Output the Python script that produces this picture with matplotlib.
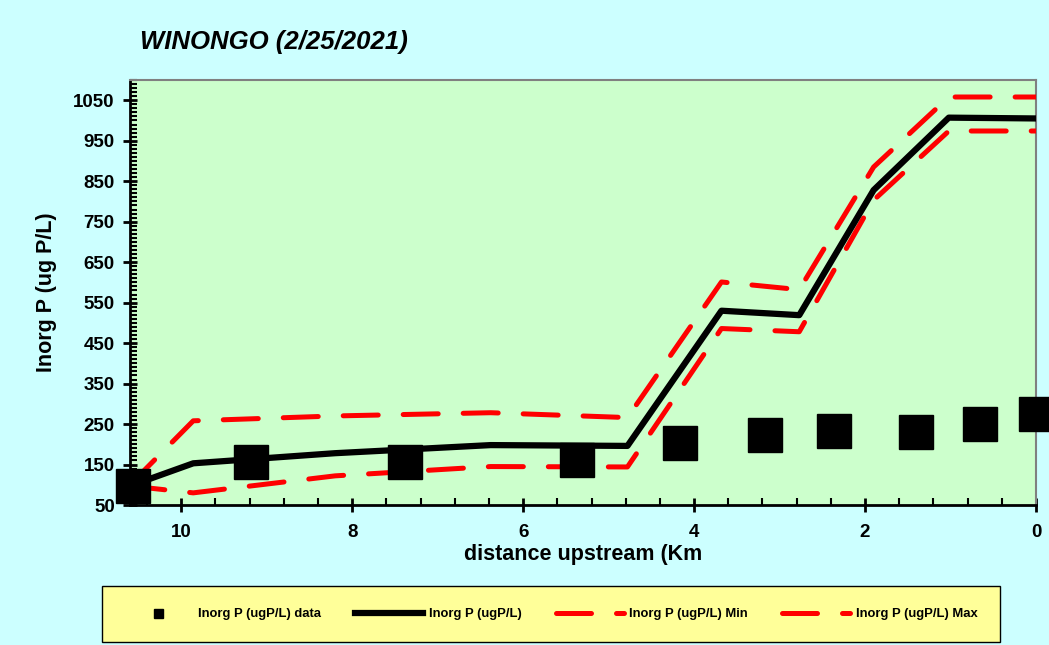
import matplotlib.pyplot as plt
from matplotlib.ticker import MultipleLocator

# distance upstream (km) of model vertices and measured data
model_km = [10.6, 9.86, 8.2, 6.38, 4.78, 3.68, 2.77, 1.90, 1.02, 0.0]
model_val = [97, 153, 178, 198, 196, 530, 519, 828, 1007, 1005]
max_val = [100, 258, 270, 278, 266, 601, 582, 885, 1058, 1058]
min_val = [97, 80, 122, 145, 144, 486, 478, 803, 974, 974]

data_km = [10.57, 9.18, 7.38, 5.37, 4.17, 3.17, 2.36, 1.40, 0.65, 0.0]
data_val = [97, 157, 156, 161, 204, 222, 233, 230, 250, 274]

plt.rcParams['font.family'] = ['Liberation Sans', 'DejaVu Sans']
plt.rcParams['font.weight'] = 'bold'

fig = plt.figure(figsize=(10.49, 6.45), dpi=100, facecolor='#CCFFFF')
ax = fig.add_axes([130 / 1049, 1 - 505 / 645, (1036 - 130) / 1049, (505 - 80) / 645])
ax.set_facecolor('#CCFFCC')

ax.plot(data_km, data_val, 's', color='black', markersize=24, clip_on=False,
        zorder=5, label='Inorg P (ugP/L) data')
ax.plot(model_km, model_val, '-', color='black', lw=4.5, zorder=4,
        label='Inorg P (ugP/L)')
ax.plot(model_km, min_val, color='red', lw=3.6, dashes=(7, 5),
        dash_capstyle='round', zorder=3, label='Inorg P (ugP/L) Min')
ax.plot(model_km, max_val, color='red', lw=3.6, dashes=(7, 5),
        dash_capstyle='round', zorder=3, label='Inorg P (ugP/L) Max')

ax.set_xlim(10.6, 0)
ax.set_ylim(50, 1100)
ax.xaxis.set_major_locator(MultipleLocator(2))
ax.xaxis.set_minor_locator(MultipleLocator(0.4))
ax.set_yticks(range(50, 1051, 100))
ax.yaxis.set_minor_locator(MultipleLocator(10))

ax.tick_params(which='major', direction='inout', length=10, width=2, labelsize=13.5)
ax.tick_params(axis='x', which='major', pad=9)
ax.tick_params(axis='y', which='major', pad=6)
ax.tick_params(which='minor', direction='in', length=5, width=1.5)
for lbl in ax.get_xticklabels() + ax.get_yticklabels():
    lbl.set_fontweight('bold')

for s in ['left', 'bottom']:
    ax.spines[s].set_linewidth(2)
    ax.spines[s].set_color('black')
for s in ['top', 'right']:
    ax.spines[s].set_linewidth(1.5)
    ax.spines[s].set_color('#808080')

ax.set_xlabel('distance upstream (Km', fontsize=15.5, fontweight='bold', labelpad=2)
ax.set_ylabel('Inorg P (ug P/L)', fontsize=15.5, fontweight='bold', labelpad=12)
fig.text(140 / 1049, 1 - 42 / 645, 'WINONGO (2/25/2021)', fontsize=18.5,
         fontweight='bold', fontstyle='italic', va='center', ha='left')

handles, labels = ax.get_legend_handles_labels()
leg = fig.legend(handles, labels, ncol=4, loc='center',
                 bbox_to_anchor=(551 / 1049, 31 / 645),
                 prop={'weight': 'bold', 'size': 9.4},
                 handlelength=5.2, handletextpad=0.45, columnspacing=2.6,
                 markerscale=0.27, frameon=True, fancybox=False,
                 borderpad=1.7)
leg.get_frame().set_facecolor('#FFFF99')
leg.get_frame().set_edgecolor('black')
leg.get_frame().set_linewidth(1)
leg.get_frame().set_alpha(1)

fig.savefig('out.png', dpi=100, facecolor=fig.get_facecolor())
